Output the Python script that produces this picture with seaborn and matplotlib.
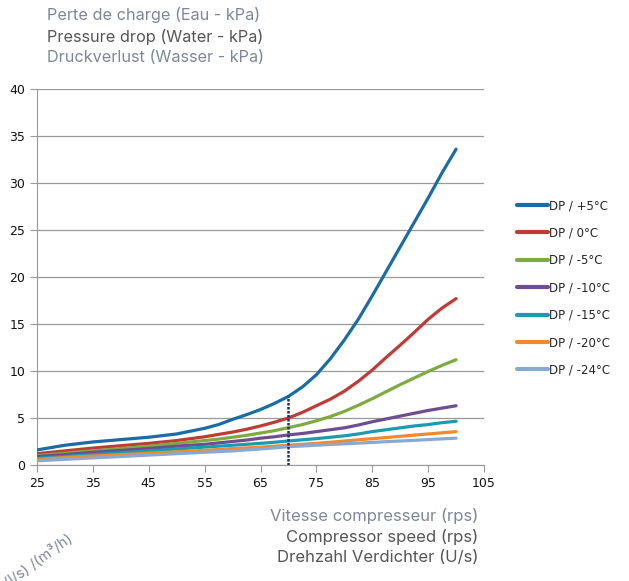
import numpy as np
import pandas as pd
import matplotlib
matplotlib.use("Agg")
import matplotlib.pyplot as plt
import seaborn as sns

speed = [25, 30, 35, 40, 45, 50, 55, 57.5, 60, 62.5, 65, 67.5, 70, 72.5, 75,
         77.5, 80, 82.5, 85, 87.5, 90, 92.5, 95, 97.5, 100]

dp_p5 = [1.6, 2.1, 2.45, 2.7, 2.95, 3.3, 3.9, 4.3, 4.85, 5.35, 5.9, 6.55, 7.3, 8.3, 9.6,
         11.3, 13.3, 15.5, 18.0, 20.6, 23.2, 25.8, 28.4, 31.1, 33.6]
dp_0 = [1.2, 1.5, 1.8, 2.05, 2.3, 2.6, 3.0, 3.25, 3.5, 3.8, 4.15, 4.55, 5.0, 5.6, 6.3,
        7.0, 7.85, 8.9, 10.1, 11.45, 12.75, 14.1, 15.5, 16.7, 17.7]
dp_m5 = [1.0, 1.25, 1.5, 1.75, 2.0, 2.3, 2.6, 2.75, 2.95, 3.15, 3.4, 3.65, 3.97, 4.3, 4.7,
         5.15, 5.7, 6.35, 7.05, 7.8, 8.55, 9.25, 9.95, 10.6, 11.2]
dp_m10 = [0.9, 1.1, 1.35, 1.55, 1.75, 2.0, 2.2, 2.35, 2.5, 2.65, 2.85, 3.0, 3.2, 3.35, 3.55,
          3.75, 3.95, 4.25, 4.6, 4.9, 5.2, 5.5, 5.8, 6.05, 6.3]
dp_m15 = [0.7, 0.9, 1.1, 1.3, 1.5, 1.7, 1.9, 2.0, 2.1, 2.2, 2.3, 2.42, 2.55, 2.68, 2.8,
          2.95, 3.1, 3.3, 3.55, 3.75, 3.95, 4.15, 4.3, 4.5, 4.65]
dp_m20 = [0.6, 0.8, 0.95, 1.1, 1.25, 1.4, 1.55, 1.65, 1.75, 1.82, 1.9, 2.0, 2.1, 2.2, 2.3,
          2.42, 2.55, 2.68, 2.8, 2.92, 3.05, 3.18, 3.3, 3.42, 3.55]
dp_m24 = [0.45, 0.6, 0.75, 0.9, 1.05, 1.2, 1.35, 1.42, 1.5, 1.6, 1.7, 1.82, 1.95, 2.02, 2.1,
          2.18, 2.25, 2.32, 2.4, 2.48, 2.55, 2.62, 2.7, 2.78, 2.85]

labels = ["DP / +5°C", "DP / 0°C", "DP / -5°C", "DP / -10°C",
          "DP / -15°C", "DP / -20°C", "DP / -24°C"]
colors = ["#1a6ca6", "#be3b36", "#7eab3f", "#6e4e90", "#1b9bb1", "#f2892d", "#8aa9d2"]
series = [dp_p5, dp_0, dp_m5, dp_m10, dp_m15, dp_m20, dp_m24]

rows = []
for lab, vals in zip(labels, series):
    for x, y in zip(speed, vals):
        rows.append({"speed": x, "dp": y, "serie": lab})
df = pd.DataFrame(rows)

sns.set_style("white")
plt.rcParams['font.family'] = ['DejaVu Sans']

fig = plt.figure(figsize=(6.29, 5.81), dpi=100)
ax = fig.add_axes([0.0588, 0.1997, 0.7107, 0.6471])

sns.lineplot(data=df, x="speed", y="dp", hue="serie", hue_order=labels,
             palette=colors, linewidth=2.3, ax=ax, zorder=3)

# marker line at 70 rps
mark_x = speed[12]
ax.vlines(mark_x, 0, dp_p5[12], colors="#1c2a7a", linestyles=(0, (1, 0.6)), linewidth=1.8, zorder=4)

ax.set_xlim(25, 105)
ax.set_ylim(0, 40)
ax.set_xticks(range(25, 106, 10))
ax.set_yticks(range(0, 41, 5))
ax.yaxis.grid(True, color="#999999", linewidth=0.9)
ax.set_axisbelow(True)
for s in ["top", "right"]:
    ax.spines[s].set_visible(False)
ax.spines["left"].set_color("#999999")
ax.spines["bottom"].set_color("#999999")
ax.tick_params(axis="both", which="both", direction="out", length=5, color="#999999",
               labelsize=9, labelcolor="#111111", left=True, bottom=True)
ax.set_xlabel("")
ax.set_ylabel("")

leg = ax.legend(loc="center left", bbox_to_anchor=(1.05, 0.471), frameon=False,
                fontsize=8.5, handlelength=2.6, handletextpad=0.15, labelspacing=1.22)
for h in leg.get_lines():
    h.set_linewidth(3)

grey_blue = "#7d879b"
dark = "#555555"
tfont = "Inter"
fig.text(0.075, 1 - 15 / 581, "Perte de charge (Eau - kPa)", fontsize=11.7, color=grey_blue, family=tfont, va="center")
fig.text(0.075, 1 - 37 / 581, "Pressure drop (Water - kPa)", fontsize=11.7, color=dark, family=tfont, va="center")
fig.text(0.075, 1 - 58 / 581, "Druckverlust (Wasser - kPa)", fontsize=11.7, color=grey_blue, family=tfont, va="center")

fig.text(478 / 629, 1 - 516 / 581, "Vitesse compresseur (rps)", fontsize=12, color=grey_blue, family=tfont, ha="right", va="center")
fig.text(478 / 629, 1 - 537 / 581, "Compressor speed (rps)", fontsize=12, color=dark, family=tfont, ha="right", va="center")
fig.text(478 / 629, 1 - 557 / 581, "Drehzahl Verdichter (U/s)", fontsize=12, color=dark, family=tfont, ha="right", va="center")

fig.text(74 / 629, 1 - 541 / 581, "Débit d'eau (l/s) /(m³/h)", fontsize=10.5, color=grey_blue, family=tfont,
         rotation=36, rotation_mode="anchor", ha="right", va="baseline")

fig.savefig("out.png", dpi=100)
